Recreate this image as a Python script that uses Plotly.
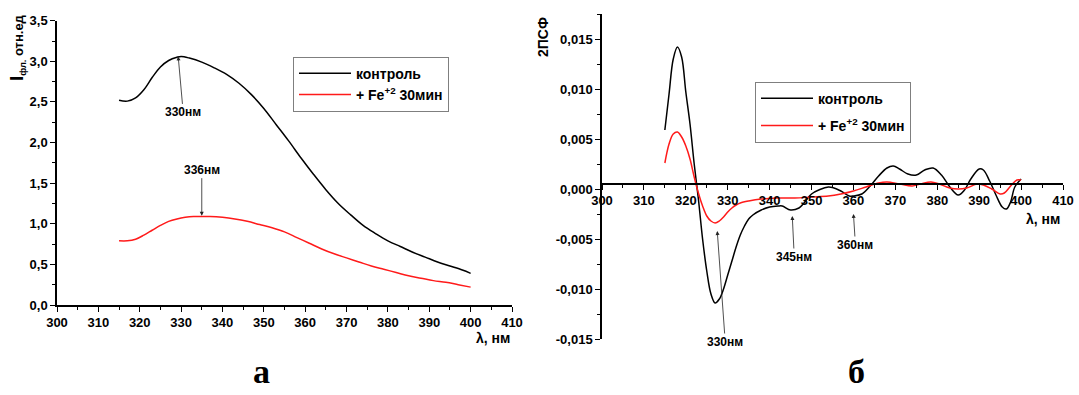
import plotly.graph_objects as go

# ---------------- data ----------------
# panel a: fluorescence intensity
wl_a_ctrl = [315, 317, 319, 321, 323, 325, 327, 329, 330, 332, 335, 338, 341, 344, 347, 350, 353, 356,
             359, 362, 365, 368, 371, 374, 377, 380, 383, 386, 389, 392, 395, 398, 400]
int_a_ctrl = [2.52, 2.51, 2.55, 2.65, 2.80, 2.93, 3.01, 3.05, 3.06, 3.04, 2.99, 2.92, 2.84, 2.73, 2.59,
              2.42, 2.22, 2.02, 1.81, 1.61, 1.42, 1.25, 1.11, 0.98, 0.88, 0.79, 0.72, 0.65, 0.59, 0.53,
              0.48, 0.43, 0.39]
wl_a_fe = [315, 317, 319, 321, 323, 325, 327, 329, 331, 333, 335, 337, 340, 343, 346, 349, 352, 355,
           358, 361, 364, 367, 370, 373, 376, 379, 382, 385, 388, 391, 394, 397, 400]
int_a_fe = [0.79, 0.79, 0.81, 0.86, 0.92, 0.98, 1.03, 1.06, 1.08, 1.09, 1.09, 1.09, 1.08, 1.06, 1.03,
            0.99, 0.95, 0.90, 0.83, 0.76, 0.69, 0.63, 0.58, 0.53, 0.48, 0.44, 0.40, 0.36, 0.33, 0.30,
            0.28, 0.25, 0.22]

# panel б: second derivative (2ПСФ)
wl_b_ctrl = [315, 316, 317, 318, 319, 320, 321, 322, 323, 324, 325, 326, 327, 328, 329, 330, 331, 332,
             333, 334, 335, 336, 338, 340, 342, 343, 345, 347, 348, 350, 352, 354, 355, 357, 359, 360,
             362, 364, 366, 368, 369.5, 371, 373, 375, 377, 379, 381, 383, 385, 386.5, 388, 390, 391,
             392.5, 394, 395.5, 396.5, 397.5, 398.5, 400]
d2_b_ctrl = [0.0059, 0.0095, 0.0130, 0.0142, 0.0132, 0.0097, 0.0065, 0.0025, -0.0010, -0.0050, -0.0082,
             -0.0105, -0.0114, -0.0110, -0.0100, -0.0086, -0.0072, -0.0058, -0.0046, -0.0037, -0.0030,
             -0.0026, -0.0021, -0.0018, -0.0017, -0.0017, -0.0021, -0.0019, -0.0015, -0.0005, -0.00005,
             0.0002, 0.00015, -0.0002, -0.0007, -0.0007, -0.0005, 0.0003, 0.0013, 0.0021, 0.0023, 0.0020,
             0.0015, 0.0014, 0.0019, 0.0021, 0.0014, 0.0002, -0.0006, -0.0001, 0.0010, 0.0020, 0.0019,
             0.0008, -0.0006, -0.0018, -0.0020, -0.0013, 0.0002, 0.0010]
wl_b_fe = [315, 316, 317, 318, 319, 320, 321, 322, 323, 324, 325, 326, 327, 328, 329, 330, 331, 332,
           333, 335, 338, 342, 346, 350, 354, 357, 360, 363, 366, 368, 371, 374, 376, 378.5, 380.5, 383,
           385, 387, 389.5, 391, 393, 395, 396, 397.5, 399, 400]
d2_b_fe = [0.0026, 0.0045, 0.0055, 0.0057, 0.0052, 0.0043, 0.0030, 0.0012, -0.0004, -0.0017, -0.0027,
           -0.0032, -0.0034, -0.0032, -0.0028, -0.0023, -0.0019, -0.0016, -0.0014, -0.0012, -0.0010,
           -0.0009, -0.0009, -0.0008, -0.0007, -0.0005, -0.0002, 0.0002, 0.0006, 0.0007, 0.0005, 0.0003,
           0.0005, 0.0007, 0.0005, 0.0001, 0.0000, 0.0001, 0.0005, 0.0004, 0.0000, -0.0005, -0.0004,
           0.0003, 0.0009, 0.0009]

series_names = ["контроль", "+ Fe<sup>+2</sup> 30мин"]
x_ticks = [300, 310, 320, 330, 340, 350, 360, 370, 380, 390, 400, 410]
ya_ticks = [0.0, 0.5, 1.0, 1.5, 2.0, 2.5, 3.0, 3.5]
yb_ticks = [-0.015, -0.010, -0.005, 0.0, 0.005, 0.010, 0.015]

# ---------------- figure ----------------
W, H = 1079, 395
FONT = "Liberation Sans, Arial, sans-serif"


def px(x):
    return x / W


def py(y):
    return 1 - y / H


fig = go.Figure()
fig.add_trace(go.Scatter(x=wl_a_ctrl, y=int_a_ctrl, mode="lines", name=series_names[0],
                         line=dict(color="black", width=1.5, shape="spline"),
                         xaxis="x", yaxis="y", legend="legend"))
fig.add_trace(go.Scatter(x=wl_a_fe, y=int_a_fe, mode="lines", name=series_names[1],
                         line=dict(color="#ff1a1a", width=1.5, shape="spline"),
                         xaxis="x", yaxis="y", legend="legend"))
fig.add_trace(go.Scatter(x=wl_b_ctrl, y=d2_b_ctrl, mode="lines", name=series_names[0],
                         line=dict(color="black", width=1.5, shape="spline"),
                         xaxis="x2", yaxis="y2", legend="legend2", legendgroup="g1"))
fig.add_trace(go.Scatter(x=wl_b_fe, y=d2_b_fe, mode="lines", name=series_names[1],
                         line=dict(color="#ff1a1a", width=1.5, shape="spline"),
                         xaxis="x2", yaxis="y2", legend="legend2", legendgroup="g2"))

tickfont = dict(family=FONT, size=13, color="black", weight="bold")
common = dict(showgrid=False, zeroline=False, showline=True, linecolor="black", linewidth=1.5,
              ticks="outside", ticklen=5, tickwidth=1.3, tickcolor="black", tickfont=tickfont,
              automargin=False)

fig.update_layout(
    template="none",
    width=W, height=H, margin=dict(l=0, r=0, t=0, b=0, pad=0, autoexpand=False),
    paper_bgcolor="white", plot_bgcolor="white",
    separators=", ",
    xaxis=dict(domain=[px(57), px(512)], range=[300, 410], anchor="y", tickvals=x_ticks,
               minor=dict(ticks="outside", ticklen=3, dtick=5, tickcolor="black", tickwidth=1.2),
               **common),
    yaxis=dict(domain=[py(305), py(20.7)], range=[0, 3.5], anchor="x", tickvals=ya_ticks,
               ticktext=[f"{v:.1f}".replace(".", ",") for v in ya_ticks],
               minor=dict(ticks="outside", ticklen=3, dtick=0.25, tickcolor="black", tickwidth=1.2),
               **common),
    xaxis2=dict(domain=[px(602), px(1063)], range=[300, 410], anchor="free", position=py(184),
                tickvals=x_ticks,
                minor=dict(ticks="outside", ticklen=3, dtick=5, tickcolor="black", tickwidth=1.2),
                **common),
    yaxis2=dict(domain=[py(339), py(14)], range=[-0.015, 0.0175], anchor="x2", tickvals=yb_ticks,
                ticktext=[f"{v:.3f}".replace(".", ",").replace("-0,000", "0,000") for v in yb_ticks],
                minor=dict(ticks="outside", ticklen=3, dtick=0.0025, tickcolor="black", tickwidth=1.2),
                **common),
    legend=dict(x=px(293), y=py(56.7), xanchor="left", yanchor="top", bgcolor="white",
                bordercolor="#7f7f7f", borderwidth=1, itemwidth=52,
                font=dict(family=FONT, size=14, color="black", weight="bold")),
    legend2=dict(x=px(755), y=py(81.7), xanchor="left", yanchor="top", bgcolor="white",
                 bordercolor="#7f7f7f", borderwidth=1, tracegroupgap=6, itemwidth=52,
                 font=dict(family=FONT, size=14, color="black", weight="bold")),
)

afont = dict(family=FONT, size=12, color="black", weight="bold")
arrow = dict(showarrow=True, arrowhead=2, arrowsize=1, arrowwidth=0.8, arrowcolor="#222222", font=afont)
centered = dict(xref="paper", yref="paper", showarrow=False, xanchor="center", yanchor="middle")
lab_font = dict(family=FONT, size=14, color="black", weight="bold")
serif_font = dict(family="Liberation Serif, Times New Roman, serif", size=34, color="black", weight="bold")
annotations = [
    dict(x=329.3, y=3.06, xref="x", yref="y", text="330нм", ax=5, ay=56, **arrow),
    dict(x=335, y=1.10, xref="x", yref="y", text="336нм", ax=0, ay=-46, **arrow),
    dict(x=327.5, y=-0.0042, xref="x2", yref="y2", text="330нм", ax=8, ay=111, **arrow),
    dict(x=345.4, y=-0.0027, xref="x2", yref="y2", text="345нм", ax=2, ay=41, **arrow),
    dict(x=360, y=-0.0025, xref="x2", yref="y2", text="360нм", ax=2, ay=31, **arrow),
    dict(x=px(493), y=py(338), text="λ, нм", font=lab_font, **centered),
    dict(x=px(1043), y=py(219), text="λ, нм", font=lab_font, **centered),
    dict(x=px(17), y=py(48), textangle=-90,
         text='<span style="font-size:19px">I</span><sub>фл.</sub> отн.ед',
         font=dict(family=FONT, size=13, color="black", weight="bold"), **centered),
    dict(x=px(543), y=py(37), textangle=-90, text="2ПСФ", font=lab_font, **centered),
    dict(x=px(261), y=py(371), text="а", font=serif_font, **centered),
    dict(x=px(856), y=py(371), text="б", font=serif_font, **centered),
]
fig.update_layout(annotations=annotations)

fig.write_html("out.html", config={"displayModeBar": False},
               post_script="document.body.style.margin='0px';")
